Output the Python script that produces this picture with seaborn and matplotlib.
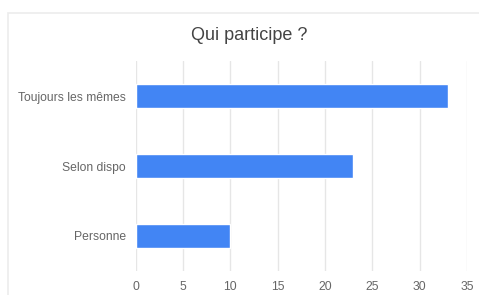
import matplotlib
matplotlib.use("Agg")
import matplotlib.pyplot as plt
import seaborn as sns
import pandas as pd
from matplotlib.patches import Rectangle

categories = ["Toujours les mêmes", "Selon dispo", "Personne"]
values = [33, 23, 10]
x_ticks = [0, 5, 10, 15, 20, 25, 30, 35]
title = "Qui participe ?"

df = pd.DataFrame({"cat": categories, "val": values})

sns.set_theme(style="white")
plt.rcParams["font.family"] = ["Liberation Sans", "DejaVu Sans"]

fig = plt.figure(figsize=(4.79, 2.95), dpi=100)
fig.patch.set_facecolor("white")

# outer chart frame (screenshot border)
fig.patches.append(Rectangle((8 / 479, -0.1), 1.2, 1 - 13 / 295 + 0.1,
                             transform=fig.transFigure, fill=False,
                             edgecolor="#ececec", linewidth=1.2, zorder=0))

ax = fig.add_axes([135.5 / 479, 1 - 271 / 295, (467 - 135.5) / 479, 210 / 295])
sns.barplot(data=df, y="cat", x="val", orient="h", color="#4285f4",
            saturation=1, width=0.357, ax=ax, zorder=3)

ax.set_xlim(0, 35)
ax.set_ylim(2.5, -0.5)
ax.set_xticks(x_ticks)
ax.set_xticklabels([str(t) for t in x_ticks])
ax.set_xlabel("")
ax.set_ylabel("")
ax.grid(axis="x", color="#e6e6e6", linewidth=1, zorder=0)
ax.set_axisbelow(True)
for s in ax.spines.values():
    s.set_visible(False)
ax.tick_params(axis="both", length=0, labelsize=8.7, labelcolor="#666666")
ax.tick_params(axis="x", pad=7)
ax.tick_params(axis="y", pad=7)
ax.set_facecolor("white")

fig.text(249 / 479, 1 - 35 / 295, title, ha="center", va="center",
         fontsize=13, color="#444444")

fig.savefig("out.png", dpi=100, facecolor="white")
